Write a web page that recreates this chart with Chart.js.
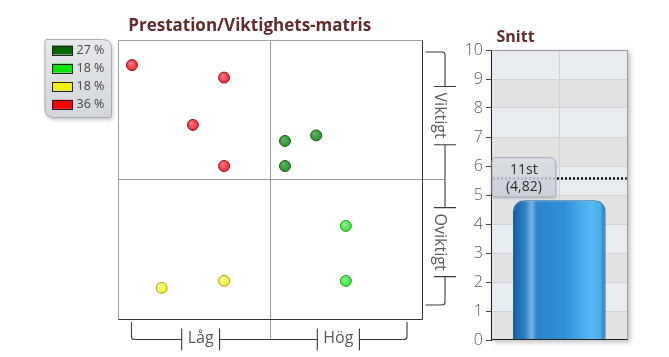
<!DOCTYPE html>
<html><head><meta charset="utf-8">
<script src="https://cdn.jsdelivr.net/npm/chart.js@4.4.0/dist/chart.umd.min.js"></script>
<style>
html,body{margin:0;padding:0;background:#fff;}
#wrap{position:relative;width:669px;height:357px;overflow:hidden;background:#fff;}
#cA{position:absolute;left:0;top:0;}
#cB{position:absolute;left:440px;top:0;}
</style></head><body>
<div id="wrap">
<canvas id="cA" width="460" height="357"></canvas>
<canvas id="cB" width="229" height="357"></canvas>
</div>
<script>
// ---------- data ----------
const matrixTitle = 'Prestation/Viktighets-matris';
const seriesLabels = ['27 %', '18 %', '18 %', '36 %'];
const darkGreenX = [3.20, 3.61, 3.20];
const darkGreenY = [3.55, 3.63, 3.19];
const lightGreenX = [4.00, 4.00];
const lightGreenY = [2.33, 1.54];
const yellowX = [1.58, 2.40];
const yellowY = [1.44, 1.54];
const redX = [1.19, 2.40, 1.99, 2.40];
const redY = [4.64, 4.46, 3.78, 3.19];
const xQuadrantLabels = ['Låg', 'Hög'];
const yQuadrantLabels = ['Viktigt', 'Oviktigt'];

const avgTitle = 'Snitt';
const avgCategories = ['Snitt'];
const avgValues = [4.82];
const avgCounts = [11];
const avgRefLine = 5.54;

// ---------- styles ----------
const pointFill = ['#2f8a2f', '#35dc35', '#eded25', '#ec2030'];
const pointLight = ['#5cb85c', '#8af58a', '#ffff9a', '#ff7a82'];
const pointBorder = ['#1c5e1c', '#22a522', '#a8a81c', '#a0121e'];
const swatchFill = ['#006600', '#00e600', '#f0f000', '#ff0000'];

function glossy(i) {
  return function (c) {
    if (c.type !== 'data' || !c.raw) return pointFill[i];
    const s = c.chart.scales;
    if (!s.x || !s.y) return pointFill[i];
    const px = s.x.getPixelForValue(c.raw.x), py = s.y.getPixelForValue(c.raw.y);
    if (!Number.isFinite(px) || !Number.isFinite(py)) return pointFill[i];
    const g = c.chart.ctx.createRadialGradient(px - 1.5, py - 2, 0.5, px, py, 6);
    g.addColorStop(0, pointLight[i]);
    g.addColorStop(1, pointFill[i]);
    return g;
  };
}
function mk(xs, ys, i) {
  return {
    label: seriesLabels[i],
    data: xs.map((x, k) => ({ x: x, y: ys[k] })),
    backgroundColor: glossy(i),
    borderColor: pointBorder[i],
    pointRadius: 5.5,
    pointBorderWidth: 1
  };
}

function hSeg(ctx, x0, x1, y, label, curlLeft, curlRight, top, textOff) {
  const s = Math.sign(top - y);
  const c = (x0 + x1) / 2, w = ctx.measureText(label).width, g = 6;
  const t1 = c - w / 2 - g, t2 = c + w / 2 + g;
  ctx.beginPath();
  if (curlLeft) { ctx.moveTo(x0, top); ctx.lineTo(x0, y + s * 3); ctx.quadraticCurveTo(x0, y, x0 + 3, y); }
  else ctx.moveTo(x0, y);
  ctx.lineTo(t1, y);
  ctx.moveTo(t1, y - 11); ctx.lineTo(t1, y + 11);
  ctx.moveTo(t2, y - 11); ctx.lineTo(t2, y + 11);
  ctx.moveTo(t2, y);
  if (curlRight) { ctx.lineTo(x1 - 3, y); ctx.quadraticCurveTo(x1, y, x1, y + s * 3); ctx.lineTo(x1, top); }
  else ctx.lineTo(x1, y);
  ctx.stroke();
  ctx.fillText(label, c, y + (textOff || 0));
}

function roundRect(ctx, x, y, w, h, r) {
  ctx.beginPath();
  ctx.moveTo(x + r.tl, y);
  ctx.lineTo(x + w - r.tr, y); ctx.quadraticCurveTo(x + w, y, x + w, y + r.tr);
  ctx.lineTo(x + w, y + h - r.br); ctx.quadraticCurveTo(x + w, y + h, x + w - r.br, y + h);
  ctx.lineTo(x + r.bl, y + h); ctx.quadraticCurveTo(x, y + h, x, y + h - r.bl);
  ctx.lineTo(x, y + r.tl); ctx.quadraticCurveTo(x, y, x + r.tl, y);
  ctx.closePath();
}

const matrixDecor = {
  id: 'matrixDecor',
  beforeDatasetsDraw(chart) {
    const ctx = chart.ctx, a = chart.chartArea, xs = chart.scales.x, ys = chart.scales.y;
    const midX = Math.round(xs.getPixelForValue(3)) + 0.5, midY = Math.round(ys.getPixelForValue(3)) + 0.5;
    const L = Math.round(a.left) + 0.5, T = Math.round(a.top) + 0.5, R = Math.round(a.right) + 0.5, B = Math.round(a.bottom) + 0.5;
    ctx.save();
    ctx.lineWidth = 1;
    ctx.strokeStyle = '#9a9a9a';
    ctx.beginPath();
    ctx.moveTo(midX, T); ctx.lineTo(midX, a.bottom + 21);
    ctx.moveTo(L, midY); ctx.lineTo(a.right + 23, midY);
    ctx.stroke();
    ctx.strokeStyle = '#a0a0a0';
    ctx.beginPath(); ctx.moveTo(L, B); ctx.lineTo(L, T); ctx.lineTo(R, T); ctx.stroke();
    ctx.strokeStyle = '#333';
    ctx.beginPath(); ctx.moveTo(R, T); ctx.lineTo(R, B); ctx.lineTo(L, B); ctx.stroke();
    ctx.restore();
  },
  afterDraw(chart) {
    const ctx = chart.ctx, a = chart.chartArea, xs = chart.scales.x, ys = chart.scales.y;
    const midX = xs.getPixelForValue(3), midY = ys.getPixelForValue(3);
    ctx.save();
    ctx.font = 'bold 17px "Open Sans"';
    ctx.fillStyle = '#622c2c';
    ctx.textAlign = 'center'; ctx.textBaseline = 'alphabetic';
    ctx.fillText(matrixTitle, (a.left + a.right) / 2 - 20, 31);

    ctx.strokeStyle = '#3a3a3a'; ctx.lineWidth = 1.1;
    ctx.font = '16px "Open Sans"'; ctx.fillStyle = '#5a5a5a';
    ctx.textAlign = 'center'; ctx.textBaseline = 'middle';
    const by = a.bottom + 21, btop = a.bottom + 3.5;
    hSeg(ctx, a.left + 14, midX, by, xQuadrantLabels[0], true, false, btop, -1);
    hSeg(ctx, midX, a.right - 15, by, xQuadrantLabels[1], false, true, btop, -1);

    const bx = a.right + 23;
    ctx.save();
    ctx.translate(bx, 0);
    ctx.rotate(Math.PI / 2);
    const vtop = bx - (a.right + 3.5);
    hSeg(ctx, a.top + 12, midY, 0, yQuadrantLabels[0], true, false, vtop, 5);
    hSeg(ctx, midY, a.bottom - 13.5, 0, yQuadrantLabels[1], false, true, vtop, 5);
    ctx.restore();

    const lx = 45, ly = 39.5, lw = 66.5, lh = 78;
    ctx.save();
    ctx.shadowColor = 'rgba(0,0,0,0.25)'; ctx.shadowBlur = 4; ctx.shadowOffsetX = 1; ctx.shadowOffsetY = 2;
    roundRect(ctx, lx, ly, lw, lh, { tl: 2, tr: 9, br: 2, bl: 9 });
    const lg = ctx.createLinearGradient(0, ly, 0, ly + lh);
    lg.addColorStop(0, '#e6e8eb'); lg.addColorStop(1, '#d3d6da');
    ctx.fillStyle = lg; ctx.fill();
    ctx.restore();
    roundRect(ctx, lx, ly, lw, lh, { tl: 2, tr: 9, br: 2, bl: 9 });
    ctx.strokeStyle = '#a8acb1'; ctx.lineWidth = 1; ctx.stroke();
    ctx.font = '12.5px "Open Sans"'; ctx.textAlign = 'left'; ctx.textBaseline = 'middle';
    chart.data.datasets.forEach((d, i) => {
      const ry = 50 + i * 18.1;
      ctx.fillStyle = swatchFill[i];
      ctx.fillRect(52, ry - 4.5, 21, 9);
      ctx.strokeStyle = '#222'; ctx.lineWidth = 1;
      ctx.strokeRect(52.5, Math.round(ry - 4.5) + 0.5, 20, 9);
      ctx.fillStyle = '#444';
      ctx.fillText(d.label, 76.5, ry + 0.5);
    });
    ctx.restore();
  }
};

new Chart(document.getElementById('cA'), {
  type: 'scatter',
  data: {
    datasets: [
      mk(darkGreenX, darkGreenY, 0),
      mk(lightGreenX, lightGreenY, 1),
      mk(yellowX, yellowY, 2),
      mk(redX, redY, 3)
    ]
  },
  options: {
    responsive: false, animation: false, devicePixelRatio: 1,
    layout: { padding: { left: 117.5, right: 38, top: 40, bottom: 38.5 } },
    scales: {
      x: { type: 'linear', min: 1, max: 5, display: false },
      y: { type: 'linear', min: 1, max: 5, display: false }
    },
    plugins: { legend: { display: false }, tooltip: { enabled: false } }
  },
  plugins: [matrixDecor]
});

// ---------- bar chart ----------
function barGradient(c) {
  const ch = c.chart, a = ch.chartArea;
  const x = ch.scales.x;
  if (!a || !x) return '#2a86cc';
  const cx = x.getPixelForValue(0);
  const half = (a.right - a.left) * 0.678 / 2;
  if (!Number.isFinite(cx) || !Number.isFinite(half)) return '#2a86cc';
  const g = ch.ctx.createLinearGradient(cx - half, 0, cx + half, 0);
  g.addColorStop(0, '#175a99');
  g.addColorStop(0.05, '#1f6cb0');
  g.addColorStop(0.13, '#2a80c4');
  g.addColorStop(0.2, '#72b4e2');
  g.addColorStop(0.26, '#2b84c8');
  g.addColorStop(0.55, '#2f8fd6');
  g.addColorStop(0.84, '#56b9f5');
  g.addColorStop(0.94, '#4aaee9');
  g.addColorStop(1, '#2473b6');
  return g;
}

const avgDecor = {
  id: 'avgDecor',
  beforeDraw(chart) {
    const ctx = chart.ctx, a = chart.chartArea, y = chart.scales.y, x = chart.scales.x;
    ctx.save();
    ctx.shadowColor = 'rgba(0,0,0,0.28)'; ctx.shadowBlur = 5; ctx.shadowOffsetX = 2; ctx.shadowOffsetY = 2;
    ctx.fillStyle = '#e6e6e6';
    ctx.fillRect(a.left, a.top, a.right - a.left, a.bottom - a.top);
    ctx.restore();
    ctx.save();
    for (let v = y.max; v > y.min; v -= 1) {
      const y0 = y.getPixelForValue(v), y1 = y.getPixelForValue(v - 1);
      ctx.fillStyle = ((y.max - v) % 2 === 0) ? '#e8ebef' : '#e2e2e2';
      ctx.fillRect(a.left, y0, a.right - a.left, y1 - y0);
    }
    const cx = Math.round(x.getPixelForValue(0)) + 0.5;
    ctx.strokeStyle = '#d2d2d2'; ctx.lineWidth = 1;
    ctx.beginPath(); ctx.moveTo(cx, a.top); ctx.lineTo(cx, a.bottom); ctx.stroke();
    ctx.restore();
  },
  afterDatasetsDraw(chart) {
    const ctx = chart.ctx, a = chart.chartArea, y = chart.scales.y;
    ctx.save();
    const L = Math.round(a.left) + 0.5, T = Math.round(a.top) + 0.5, R = Math.round(a.right) - 0.5, B = Math.round(a.bottom) - 0.5;
    ctx.lineWidth = 1;
    ctx.strokeStyle = '#9c9c9c';
    ctx.beginPath(); ctx.moveTo(L, T); ctx.lineTo(R, T); ctx.lineTo(R, B); ctx.stroke();
    ctx.strokeStyle = '#222';
    ctx.beginPath(); ctx.moveTo(a.left, B); ctx.lineTo(a.right, B); ctx.stroke();
    const ry = Math.round(y.getPixelForValue(avgRefLine)) - 0.5;
    ctx.strokeStyle = '#111'; ctx.lineWidth = 2.5; ctx.setLineDash([2, 2]);
    ctx.beginPath(); ctx.moveTo(a.left + 2, ry); ctx.lineTo(a.right - 1, ry); ctx.stroke();
    ctx.setLineDash([]);
    const bar = chart.getDatasetMeta(0).data[0];
    const bx0 = a.left + 1, bx1 = bar.x - 3.5, bBot = bar.y - 3, bTop = bBot - 39.5;
    ctx.save();
    ctx.shadowColor = 'rgba(0,0,0,0.2)'; ctx.shadowBlur = 3; ctx.shadowOffsetY = 1;
    roundRect(ctx, bx0, bTop, bx1 - bx0, bBot - bTop, { tl: 3, tr: 7, br: 2, bl: 5 });
    const lg = ctx.createLinearGradient(0, bTop, 0, bBot);
    lg.addColorStop(0, 'rgba(226,230,236,0.82)'); lg.addColorStop(1, 'rgba(204,210,219,0.82)');
    ctx.fillStyle = lg; ctx.fill();
    ctx.restore();
    roundRect(ctx, bx0, bTop, bx1 - bx0, bBot - bTop, { tl: 3, tr: 7, br: 2, bl: 5 });
    ctx.strokeStyle = '#a3aab3'; ctx.lineWidth = 1; ctx.stroke();
    ctx.fillStyle = '#2a2a2a'; ctx.font = '14px "Open Sans"';
    ctx.textAlign = 'center'; ctx.textBaseline = 'middle';
    const tx = (bx0 + bx1) / 2;
    ctx.fillText(avgCounts[0] + 'st', tx, bTop + 12);
    ctx.fillText('(' + avgValues[0].toFixed(2).replace('.', ',') + ')', tx, bTop + 29);
    ctx.font = 'bold 16px "Open Sans"'; ctx.fillStyle = '#622c2c';
    ctx.textAlign = 'left'; ctx.textBaseline = 'alphabetic';
    ctx.fillText(avgTitle, a.left + 5.5, 42);
    ctx.restore();
  }
};

new Chart(document.getElementById('cB'), {
  type: 'bar',
  data: {
    labels: avgCategories,
    datasets: [{
      data: avgValues,
      backgroundColor: barGradient,
      borderColor: '#1c64a4',
      borderWidth: 1,
      borderSkipped: 'bottom',
      borderRadius: { topLeft: 11, topRight: 11, bottomLeft: 0, bottomRight: 0 },
      barPercentage: 0.678,
      categoryPercentage: 1
    }]
  },
  options: {
    responsive: false, animation: false, devicePixelRatio: 1,
    layout: { padding: { left: 0, right: 41.3, top: 50, bottom: 17 } },
    scales: {
      x: { display: false },
      y: {
        min: 0, max: 10,
        afterFit(s) { s.width = 51; },
        ticks: { stepSize: 1, font: { family: '"Open Sans"', size: 16, weight: 300 }, color: '#555', padding: 3 },
        grid: { color: '#d2d2d2', tickColor: '#444', tickLength: 5 },
        border: { display: true, color: '#222', width: 1 }
      }
    },
    plugins: { legend: { display: false }, tooltip: { enabled: false } }
  },
  plugins: [avgDecor]
});
</script>
</body></html>
